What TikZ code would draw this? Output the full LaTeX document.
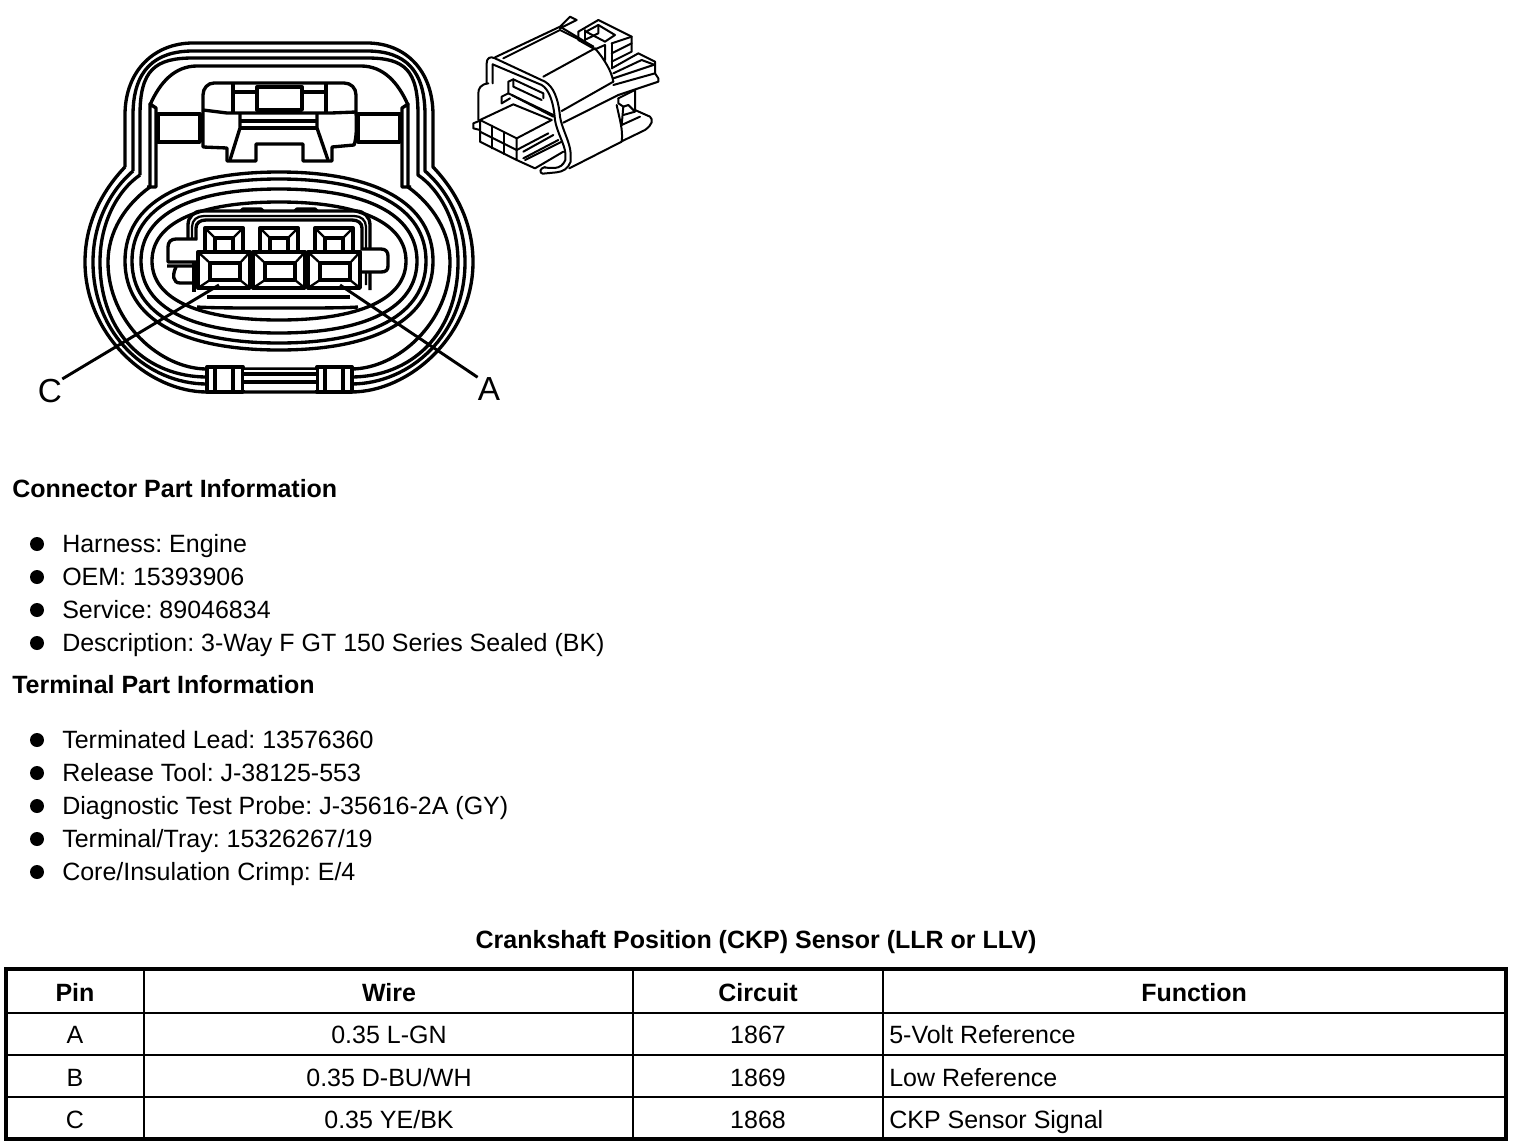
\documentclass[tikz,border=0pt]{standalone}
\usepackage{fontspec}
\setmainfont{Liberation Sans}
\frenchspacing
\begin{document}
\begin{tikzpicture}[x=0.75pt,y=-0.75pt,
  ln/.style={line width=2.5pt,line join=round},
  thin ln/.style={line width=1.7pt,line join=round},
  iso/.style={line width=1.5pt,line join=round,line cap=round},
  leader/.style={line width=2.2pt},
  callout/.style={font=\fontsize{25}{25}\selectfont,inner sep=0pt},
  head/.style={font=\bfseries\fontsize{18.75}{22}\selectfont,anchor=base west,inner sep=0pt},
  body/.style={font=\fontsize{18.75}{22}\selectfont,anchor=base west,inner sep=0pt},
  cell/.style={font=\fontsize{18.75}{22}\selectfont,anchor=base,inner sep=0pt},
  hcell/.style={font=\bfseries\fontsize{18.75}{22}\selectfont,anchor=base,inner sep=0pt},
  bul/.style={circle,fill=black,inner sep=0pt,minimum size=10.5pt}]
\useasboundingbox (0,0) rectangle (1520,1146);
\fill[white] (0,0) rectangle (1520,1146);
% outer contours
\foreach \d/\s in {0/167,8/171,15/175}{
  \draw[ln] (125+\d,\s) -- (125+\d,115) .. controls (125+\d,70) and (155,43+\d) .. (193,43+\d) -- (367,43+\d)
   .. controls (405,43+\d) and (433-\d,70) .. (433-\d,115) -- (433-\d,\s)
   .. controls (455-\d,190) and (473-\d,222) .. (473-\d,262)
   .. controls (473-\d,335) and (410,392-\d) .. (351,392-\d) -- (207,392-\d)
   .. controls (148,392-\d) and (85+\d,335) .. (85+\d,262)
   .. controls (85+\d,222) and (103+\d,190) .. (125+\d,\s);
}
% fourth contour of body
\draw[ln] (150,187) .. controls (125,205) and (108,232) .. (108,262)
   .. controls (108,322) and (160,369) .. (207,369) -- (351,369)
   .. controls (398,369) and (450,322) .. (450,262)
   .. controls (450,232) and (433,205) .. (408,187);
% head inner contour
\draw[ln] (150,105) .. controls (160,82) and (175,66) .. (197,66) -- (361,66) .. controls (383,66) and (398,82) .. (408,105);
% walls
\draw[ln] (147,187) -- (150,187) -- (150,104) -- (156,108) -- (156,187) -- (147,187);
\draw[ln] (411,187) -- (408,187) -- (408,104) -- (402,108) -- (402,187) -- (411,187);
% latch
\draw[ln] (203,110) -- (203,95) .. controls (203,88) and (208,83) .. (214,83) -- (344,83) .. controls (351,83) and (356,88) .. (356,95) -- (356,112);
\draw[ln] (203,110) -- (227,113) -- (331,113) -- (356,112);
\draw[ln] (233,83) -- (233,113) (326,83) -- (326,113);
\draw[ln,fill=white] (257,87) rectangle (302,110);
\draw[ln] (233,92) -- (257,92) (302,92) -- (326,92);
\draw[line width=3pt] (257,111) -- (302,111);
\draw[ln] (203,110) -- (203,147) -- (227,148) -- (227,161) -- (256,161) -- (256,144) -- (303,144) -- (303,161) -- (332,161) -- (332,147) -- (354,145) .. controls (356,140) and (357,130) .. (356,112);
\draw[ln] (240,113) -- (240,128) -- (230,160);
\draw[ln] (317,113) -- (317,128) -- (328,160);
\draw[ln] (240,121) -- (317,121) (240,128) -- (317,128);
\draw[ln] (158,114) rectangle (200,142);
\draw[ln] (358,114) rectangle (400,142);
\draw[line width=3pt] (157,114) -- (157,142) (358,114) -- (358,142);
% inner rings
\foreach \a/\b in {154/89,147/82,138/72,127/59}{
  \draw[ln] (279-\a,261) .. controls (279-\a,261-0.66*\b) and (279-0.62*\a,261-\b) .. (279,261-\b)
    .. controls (279+0.62*\a,261-\b) and (279+\a,261-0.66*\b) .. (279+\a,261)
    .. controls (279+\a,261+0.66*\b) and (279+0.62*\a,261+\b) .. (279,261+\b)
    .. controls (279-0.62*\a,261+\b) and (279-\a,261+0.66*\b) .. (279-\a,261);
}
\draw[ln] (197,307) .. controls (215,308) and (235,308) .. (279,308) .. controls (323,308) and (343,308) .. (358,307);
\draw[ln] (207,297) -- (350,297);
% bottom tabs
\foreach \l/\r/\ia/\ib in {207/243/215/233,317/352/325/343}{
  \draw[ln,fill=white] (\l,367) rectangle (\r,392);
  \draw[ln] (\ia,367) -- (\ia,392) (\ib,367) -- (\ib,392);
}
\fill[white] (244,370) rectangle (316,390);
\draw[ln] (243,374) -- (317,374) (243,382) -- (317,382);
% shroud
\draw[ln] (188,240) -- (188,225) .. controls (188,217) and (194,211) .. (202,211) -- (356,211) .. controls (364,211) and (370,217) .. (370,225) -- (370,290);
\draw[thin ln] (192,240) -- (192,227) .. controls (192,220) and (197,216) .. (204,216) -- (354,216) .. controls (361,216) and (366,220) .. (366,227) -- (366,285);
\draw[ln] (196,240) -- (196,228) .. controls (196,223) and (200,220) .. (206,220) -- (352,220) .. controls (358,220) and (362,223) .. (362,228) -- (362,252);
\draw[ln] (194,262) -- (194,292);
\foreach \l/\r in {241/263,295/317}{\draw[ln] (\l,211) -- (\l+2,209) -- (\r-2,209) -- (\r,211);}
% side tabs
\draw[ln,fill=white] (197,239) -- (176,239) .. controls (171,239) and (168,242) .. (168,247) -- (168,262) -- (197,262);
\draw[ln,fill=white] (361,249) -- (381,249) .. controls (386,249) and (388,252) .. (388,256) -- (388,266) .. controls (388,270) and (386,272) .. (381,272) -- (361,272);
\draw[ln] (167,266) -- (193,266) (193,283) -- (180,283) .. controls (173,283) and (172,275) .. (176,267);
% cavities
\foreach \x in {0,55,110}{
  \draw[ln] (205+\x,252) -- (205+\x,228) -- (243+\x,228) -- (243+\x,252);
  \draw[ln] (215+\x,252) -- (215+\x,238) -- (233+\x,238) -- (233+\x,252);
  \draw[thin ln] (205+\x,228) -- (215+\x,238) (243+\x,228) -- (233+\x,238);
  \draw[ln,fill=white] (198+\x,252) rectangle (250+\x,288);
  \draw[ln] (210+\x,263) rectangle (240+\x,280);
  \draw[thin ln] (198+\x,252) -- (210+\x,263) (250+\x,252) -- (240+\x,263) (198+\x,288) -- (210+\x,280) (250+\x,288) -- (240+\x,280);
}
% leaders and labels
\node[callout] (labC) at (50,391) {C};
\node[callout] (labA) at (489,389) {A};
\coordinate (pinC) at (219,285);
\coordinate (pinA) at (340,285);
\draw[leader] (pinC) -- (labC.north east);
\draw[leader] (pinA) -- (labA.north west);
% isometric view
\begin{scope}[shift={(460,5)},x=0.25pt,y=-0.25pt]
% left post
\draw[iso] (55,345) -- (55,265) .. controls (55,250) and (62,238) .. (85,235);
% hoop
\draw[iso] (80,235) -- (80,175) .. controls (80,160) and (90,152) .. (105,160) -- (255,230) .. controls (280,245) and (295,280) .. (300,335) .. controls (305,370) and (330,410) .. (332,445) -- (332,470) .. controls (325,490) and (310,500) .. (290,502) -- (248,506) .. controls (238,504) and (238,490) .. (255,486);
\draw[iso] (98,235) -- (98,178) -- (245,240) .. controls (265,252) and (280,285) .. (285,345) .. controls (290,380) and (315,420) .. (316,445) -- (316,465) .. controls (310,480) and (300,487) .. (285,489) -- (255,488);
% body lines
\draw[iso] (105,157) -- (300,65) -- (330,35) -- (350,45) -- (300,70);
\draw[iso] (130,160) -- (300,75) -- (400,125);
\draw[iso] (300,65) -- (400,125);
\draw[iso] (250,215) -- (405,130);
\draw[iso] (405,130) .. controls (435,165) and (455,200) .. (460,230);
\draw[iso] (305,318) -- (460,230);
\draw[iso] (310,353) -- (475,270);
\draw[iso] (328,490) -- (485,410);
\draw[iso] (470,300) .. controls (478,340) and (490,375) .. (485,410);
% top tab
\draw[iso] (355,80) -- (415,45) -- (515,95) -- (515,140) -- (455,170);
\draw[iso] (355,80) -- (355,105) -- (405,133) -- (435,120) -- (435,165);
\draw[iso] (375,75) -- (375,115);
\draw[iso] (378,80) -- (415,60) -- (465,90) -- (435,110) -- (378,80);
\draw[iso] (415,60) -- (415,85) -- (378,103);
\draw[iso] (455,115) -- (515,95);
\draw[iso] (455,115) -- (455,190);
\draw[iso] (455,145) -- (515,115);
% right rails
\draw[iso] (455,190) -- (535,145) -- (585,170) -- (585,205) -- (460,240);
\draw[iso] (460,205) -- (545,165) -- (585,180);
\draw[iso] (460,220) -- (580,180);
\draw[iso] (585,205) -- (595,220) -- (595,230) -- (475,270);
% bracket
\draw[iso] (475,280) -- (525,255) -- (525,315);
\draw[iso] (475,280) -- (475,295) -- (490,305) -- (485,360);
\draw[iso] (490,305) -- (505,300) -- (525,320) -- (490,330);
\draw[iso] (525,315) -- (570,335) .. controls (580,345) and (578,358) .. (555,375) -- (487,408);
\draw[iso] (485,360) -- (540,335);
% window interior
\draw[iso] (145,265) -- (145,230) -- (160,223) -- (250,265) -- (250,280);
\draw[iso] (160,223) -- (160,245) -- (245,285);
\draw[iso] (125,295) -- (125,275) -- (145,265) -- (280,330);
\draw[iso] (155,270) -- (280,335);
\draw[iso] (125,295) -- (150,280);
% plug
\draw[iso] (60,345) -- (160,298) -- (275,345);
\draw[iso] (60,345) -- (170,400) -- (275,345);
\draw[iso] (60,345) -- (60,410) -- (170,465) -- (170,400);
\draw[iso] (60,380) -- (170,435);
\draw[iso] (95,362) -- (95,430) (132,382) -- (132,447);
\draw[iso] (60,347) -- (40,355) -- (40,370) -- (60,375);
\draw[iso] (170,435) -- (265,385);
\draw[iso] (190,440) -- (280,390);
\draw[iso] (190,460) -- (295,405);
\draw[iso] (195,465) -- (305,410);
\draw[iso] (170,465) -- (225,490) -- (310,440);
\end{scope}
% text
\node[head] (t1) at (12,497) {Connector Part Information};
\node[head] (t2) at (12,693) {Terminal Part Information};
\foreach \y/\x/\txt in {552/62/{Harness: Engine},585/62/{OEM: 15393906},618/62/{Service: 89046834},651/62/{Description: 3-Way F GT 150 Series Sealed (BK)},748/62/{Terminated Lead: 13576360},781/62/{Release Tool: J-38125-553},814/62/{Diagnostic Test Probe: J-35616-2A (GY)},847/62/{Terminal/Tray: 15326267/19},880/62/{Core/Insulation Crimp: E/4}}{
  \node[body] at (\x,\y) {\txt};
  \node[bul] at (37,\y-8) {};
}
\node[hcell] (title) at (756,948) {Crankshaft Position (CKP) Sensor (LLR or LLV)};
% table
\draw[line width=3pt] (6,969) rectangle (1506,1139);
\draw[line width=2pt] (6,1013) -- (1506,1013) (6,1055) -- (1506,1055) (6,1097) -- (1506,1097);
\draw[line width=0.8pt] (144,969) -- (144,1139);
\draw[line width=1.5pt] (633,969) -- (633,1139) (883,969) -- (883,1139);
\foreach \x/\txt in {75/Pin,389/Wire,758/Circuit,1194/Function}{\node[hcell] at (\x,1001) {\txt};}
\foreach \y/\p/\w/\c/\f in {1043/A/{0.35 L-GN}/1867/{5-Volt Reference},1086/B/{0.35 D-BU/WH}/1869/{Low Reference},1128/C/{0.35 YE/BK}/1868/{CKP Sensor Signal}}{
  \node[cell] at (75,\y) {\p};
  \node[cell] at (389,\y) {\w};
  \node[cell] at (758,\y) {\c};
  \node[body] at (889,\y) {\f};
}
\end{tikzpicture}
\end{document}
